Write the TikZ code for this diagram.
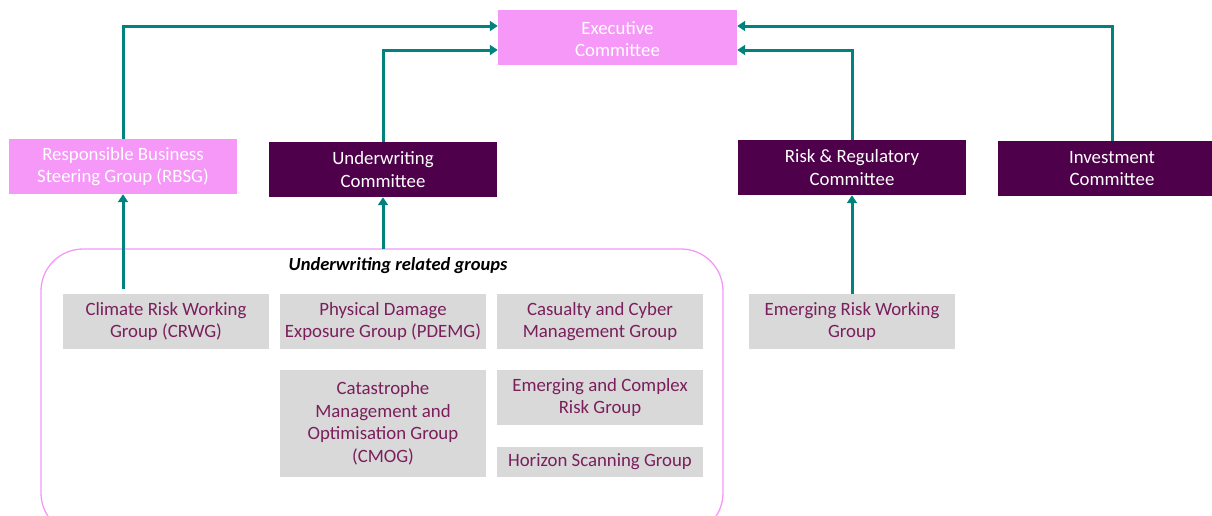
\documentclass[tikz,border=0pt]{standalone}
\usepackage{fontspec}
\setmainfont{Carlito}
\usetikzlibrary{arrows.meta,positioning}
\definecolor{pinkbox}{HTML}{F598F8}
\definecolor{darkp}{HTML}{4F004B}
\definecolor{greyb}{HTML}{D9D9D9}
\definecolor{greytext}{HTML}{7A1F5C}
\definecolor{teal}{HTML}{00827F}
\tikzset{
  box/.style={minimum width=#1, inner sep=0pt, align=center, font=\fontsize{18.8}{22.5}\selectfont},
  pinkn/.style={box=#1, fill=pinkbox, text=white, minimum height=55pt},
  darkn/.style={box=#1, fill=darkp, text=white, minimum height=55pt},
  greyn/.style={box=#1, fill=greyb, text=greytext},
  conn/.style={draw=teal, line width=3pt, -{Triangle[width=10pt,length=8pt]}},
}
\begin{document}
\begin{tikzpicture}[x=1pt,y=-1pt]
\useasboundingbox (0,0) rectangle (1212,515);
\clip (0,0) rectangle (1212,515);
% group frame
\draw[pinkbox, line width=1.3pt, rounded corners=42pt] (41,249) rectangle (723,535);
\node[font=\fontsize{18.5}{22}\selectfont\bfseries\itshape, text=black] (grplabel) at (398,266) {Underwriting related groups};
\coordinate (grptop) at (383,249);
% top
\node[pinkn=239pt, minimum height=55pt] (exec) at (617.5,37.5) {\strut Executive\\Committee};
\node[pinkn=228pt] (rbsg) at (123,166.5) {Responsible Business\\Steering Group (RBSG)};
\node[darkn=228pt] (uc) at (383,169.5) {Underwriting\\Committee};
\node[darkn=228pt] (rrc) at (852,167.5) {Risk \& Regulatory\\Committee};
\node[darkn=228pt] (inv) at (1112,168.5) {Investment\\Committee};
% grey
\node[greyn=206pt, minimum height=55pt] (crwg) at (166,321.5) {Climate Risk Working\\Group (CRWG)};
\node[greyn=206pt, minimum height=55pt] (pdemg) at (383,321.5) {Physical Damage\\Exposure Group (PDEMG)};
\node[greyn=206pt, minimum height=55pt] (cas) at (600,321.5) {Casualty and Cyber\\Management Group};
\node[greyn=206pt, minimum height=107pt] (cmog) at (383,423.5) {Catastrophe\\Management and\\Optimisation Group\\(CMOG)};
\node[greyn=206pt, minimum height=55pt] (ecr) at (600,397.5) {Emerging and Complex\\Risk Group};
\node[greyn=206pt, minimum height=30pt] (hsg) at (600,462) {Horizon Scanning Group};
\node[greyn=206pt, minimum height=55pt] (erwg) at (852,321.5) {Emerging Risk Working\\Group};
% connectors
\draw[conn] (rbsg.north) -- (rbsg.north |- 0,26) -- (exec.west |- 0,26);
\draw[conn] (uc.north) -- (uc.north |- 0,50) -- (exec.west |- 0,50);
\draw[conn] (rrc.north) -- (rrc.north |- 0,50) -- (exec.east |- 0,50);
\draw[conn] (inv.north) -- (inv.north |- 0,26) -- (exec.east |- 0,26);
\draw[conn] (123,289) -- (rbsg.south);
\draw[conn] (grptop) -- (uc.south);
\draw[conn] (erwg.north) -- (rrc.south);
\end{tikzpicture}
\end{document}
